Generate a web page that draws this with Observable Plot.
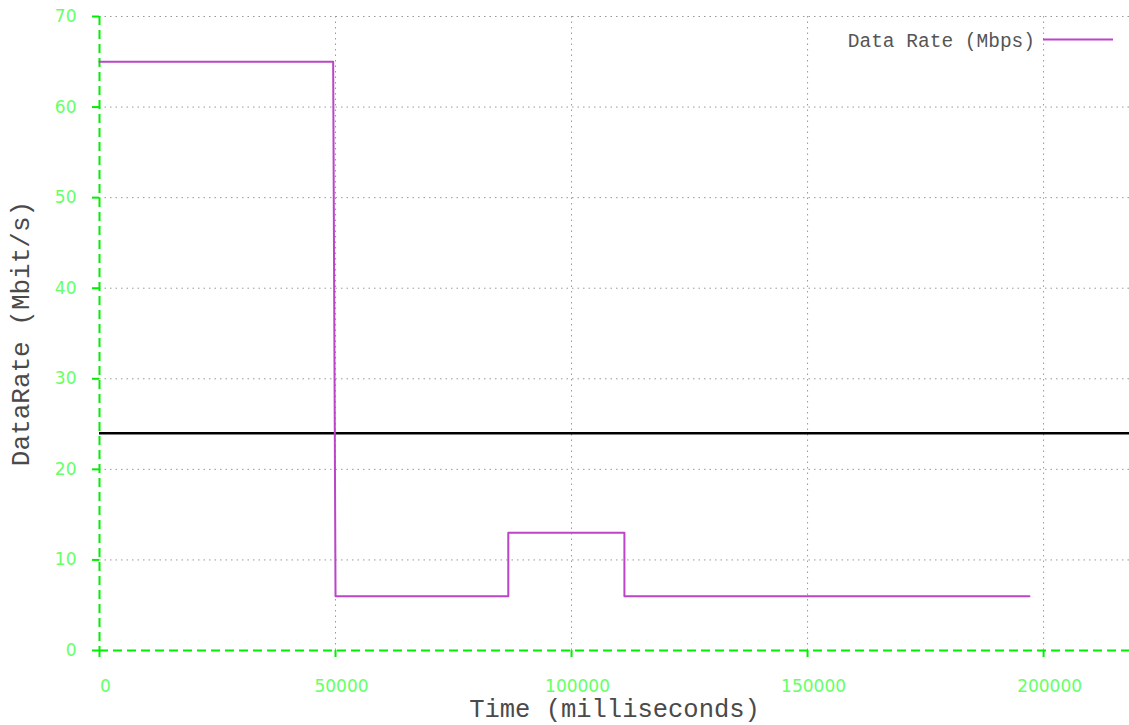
<!DOCTYPE html>
<html>
<head>
<meta charset="utf-8">
<script src="https://cdn.jsdelivr.net/npm/d3@7"></script>
<script src="https://cdn.jsdelivr.net/npm/@observablehq/plot@0.6"></script>
<style>
  body { margin: 0; background: #fff; }
  #wrap { position: relative; width: 1129px; height: 725px; }
  #legend { position: absolute; left: 0; top: 0; pointer-events: none; }
</style>
</head>
<body>
<div id="wrap"></div>
<script>
// Data
const time = [0, 49500, 50000, 86600, 86600, 111200, 111200, 197000];
const rate = [65, 65, 6, 6, 13, 13, 6, 6];
const threshold = [24];
const xTicks = [0, 50000, 100000, 150000, 200000];
const yTicks = [0, 10, 20, 30, 40, 50, 60, 70];
const seriesName = "Data Rate (Mbps)";
const xLabel = "Time (milliseconds)";
const yLabel = "DataRate (Mbit/s)";

const data = time.map((t, i) => ({t, r: rate[i]}));

const green = "#00ee00";
const tickGreen = "#66ff66";
const purple = "#bb44c8";

const plot = Plot.plot({
  width: 1129,
  height: 725,
  marginLeft: 99,
  marginRight: 0,
  marginTop: 16,
  marginBottom: 75,
  x: {domain: [0, 218200]},
  y: {domain: [0, 70]},
  style: {background: "#fff"},
  marks: [
    Plot.gridX(xTicks.slice(1), {stroke: "#999", strokeOpacity: 1, strokeDasharray: "1.5,4"}),
    Plot.gridY(yTicks.slice(1), {stroke: "#999", strokeOpacity: 1, strokeDasharray: "1.5,4"}),
    Plot.ruleX([0], {stroke: green, strokeWidth: 2, strokeDasharray: "9,5"}),
    Plot.ruleY([0], {stroke: green, strokeWidth: 2, strokeDasharray: "9,5"}),
    // x tick marks
    Plot.axisX(xTicks, {tickSize: 7, stroke: green, strokeWidth: 2, tickFormat: () => "", label: null}),
    // x tick labels (shifted slightly right, as in the reference)
    Plot.axisX(xTicks, {tickSize: 0, fill: tickGreen, fontSize: 17, fontFamily: "DejaVu Sans",
      tickPadding: 29, dx: 6, tickFormat: d3.format("d"), label: null}),
    Plot.axisY(yTicks, {tickSize: 7, stroke: green, strokeWidth: 2, fill: tickGreen, fontSize: 17,
      fontFamily: "DejaVu Sans", tickPadding: 16, label: null}),
    Plot.ruleY(threshold, {stroke: "#000", strokeWidth: 2.5}),
    Plot.line(data, {x: "t", y: "r", stroke: purple, strokeWidth: 2}),
    Plot.text([xLabel], {frameAnchor: "bottom", dy: 58, fontSize: 25.5, fontFamily: "Liberation Mono",
      fill: "#4a4a4a", textAnchor: "middle", lineAnchor: "middle"}),
    Plot.text([yLabel], {frameAnchor: "left", dx: -79, rotate: -90, fontSize: 26, textAnchor: "middle",
      lineAnchor: "middle", fontFamily: "Liberation Mono", fill: "#4a4a4a"})
  ]
});
document.getElementById("wrap").appendChild(plot);

// Legend overlay
const ns = "http://www.w3.org/2000/svg";
const leg = document.createElementNS(ns, "svg");
leg.setAttribute("id", "legend");
leg.setAttribute("width", 1129);
leg.setAttribute("height", 80);
const txt = document.createElementNS(ns, "text");
txt.setAttribute("x", 1035);
txt.setAttribute("y", 42);
txt.setAttribute("text-anchor", "end");
txt.setAttribute("dominant-baseline", "middle");
txt.setAttribute("font-family", "Liberation Mono");
txt.setAttribute("font-size", 19.5);
txt.setAttribute("fill", "#555");
txt.textContent = seriesName;
leg.appendChild(txt);
const sw = document.createElementNS(ns, "line");
sw.setAttribute("x1", 1043); sw.setAttribute("x2", 1113);
sw.setAttribute("y1", 39.5); sw.setAttribute("y2", 39.5);
sw.setAttribute("stroke", purple); sw.setAttribute("stroke-width", 2);
leg.appendChild(sw);
document.getElementById("wrap").appendChild(leg);
</script>
</body>
</html>
